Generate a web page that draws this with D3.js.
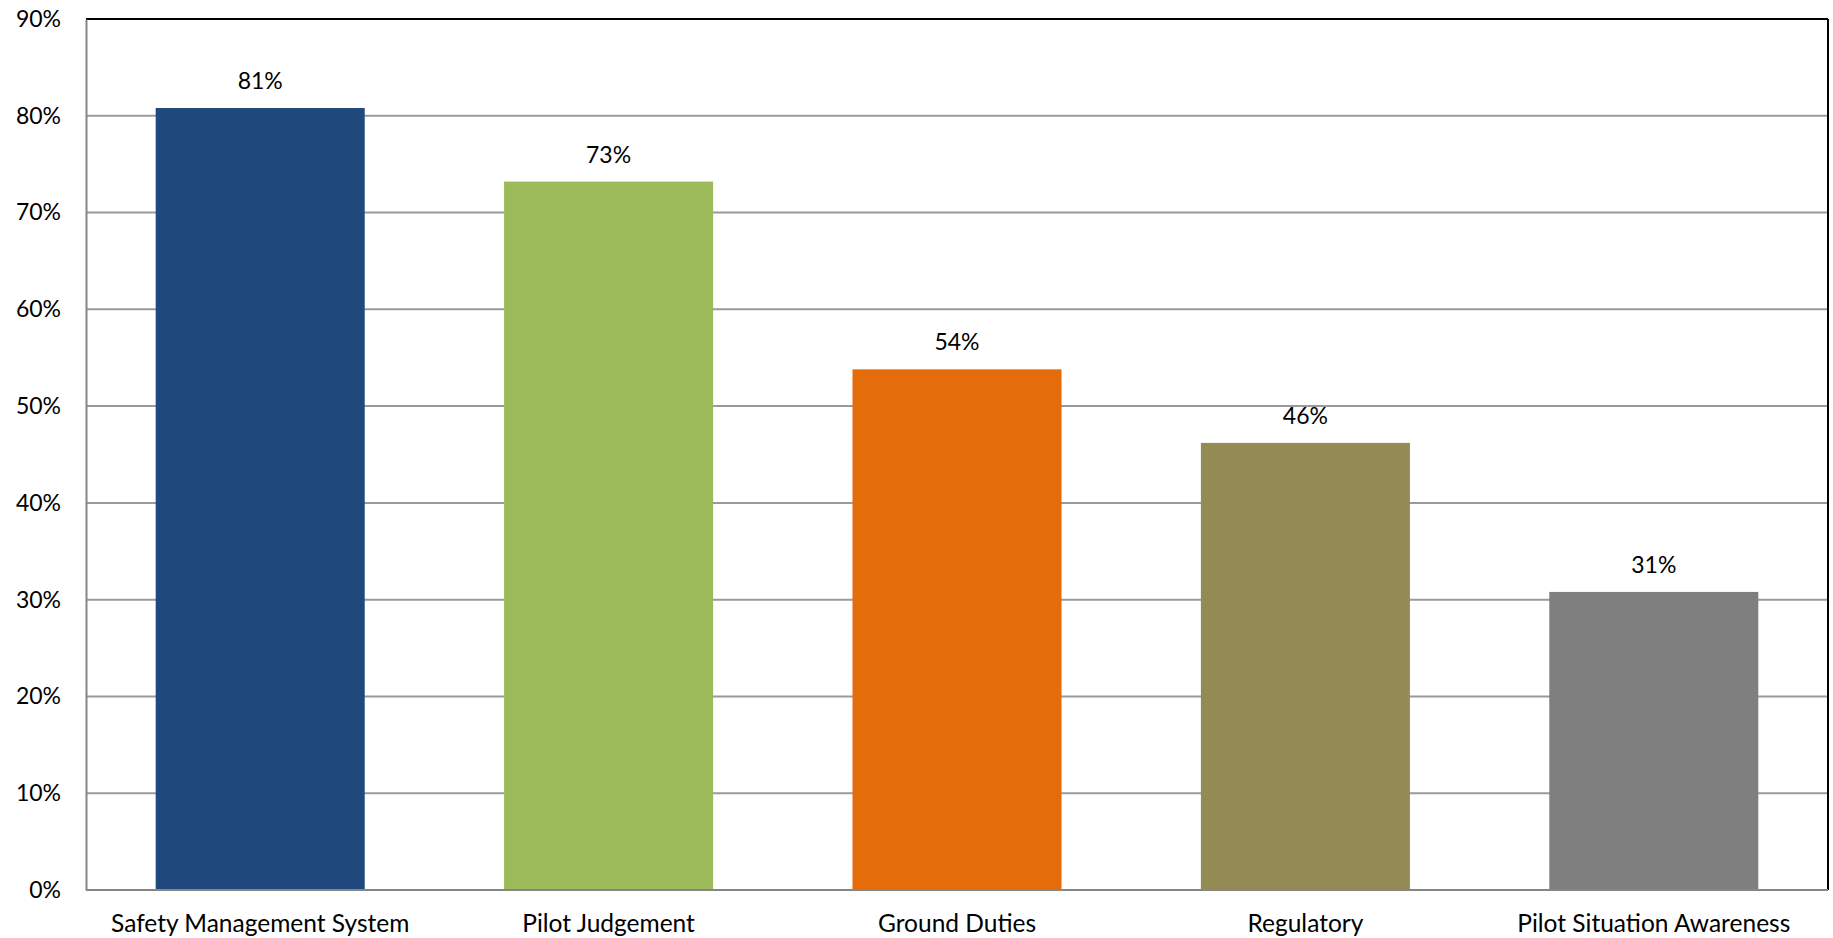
<!DOCTYPE html>
<html>
<head>
<meta charset="utf-8">
<script src="https://cdn.jsdelivr.net/npm/d3@7"></script>
<style>
  html, body { margin: 0; padding: 0; background: #fff; }
  svg { display: block; }
  text { font-family: Lato, "Open Sans", sans-serif; fill: #000; }
</style>
</head>
<body>
<svg id="chart" width="1833" height="938"></svg>
<script>
const categories = ["Safety Management System", "Pilot Judgement", "Ground Duties", "Regulatory", "Pilot Situation Awareness"];
const values = [80.8, 73.2, 53.8, 46.2, 30.8];
const valueLabels = ["81%", "73%", "54%", "46%", "31%"];
const colors = ["#1F497D", "#9BBB59", "#E46C0A", "#948A54", "#7F7F7F"];
const yTicks = [0, 10, 20, 30, 40, 50, 60, 70, 80, 90];

const svg = d3.select("#chart");
const margin = { left: 86, right: 5, top: 19, bottom: 48 };
const W = 1833, H = 938;
const x0 = margin.left, x1 = W - margin.right;
const y0 = H - margin.bottom, y1 = margin.top;

const x = d3.scaleBand().domain(categories).range([x0, x1]).paddingInner(0.4).paddingOuter(0.2);
const y = d3.scaleLinear().domain([0, 90]).range([y0, y1]);

// gridlines
svg.append("g").selectAll("line").data(yTicks.filter(t => t > 0 && t < 90)).join("line")
  .attr("x1", x0).attr("x2", x1)
  .attr("y1", d => y(d)).attr("y2", d => y(d))
  .attr("stroke", "#9A9A9A").attr("stroke-width", 2);

// plot border top and right (black)
svg.append("line").attr("x1", x0).attr("x2", x1).attr("y1", y(90)).attr("y2", y(90))
  .attr("stroke", "#000").attr("stroke-width", 2);
svg.append("line").attr("x1", x1).attr("x2", x1).attr("y1", y(90)).attr("y2", y(0))
  .attr("stroke", "#000").attr("stroke-width", 2);

// bars
svg.append("g").selectAll("rect").data(categories).join("rect")
  .attr("x", d => x(d))
  .attr("width", x.bandwidth())
  .attr("y", (d, i) => y(values[i]))
  .attr("height", (d, i) => y(0) - y(values[i]))
  .attr("fill", (d, i) => colors[i]);

// value labels
svg.append("g").selectAll("text").data(categories).join("text")
  .attr("x", d => x(d) + x.bandwidth() / 2)
  .attr("y", (d, i) => y(values[i]) - 19)
  .attr("text-anchor", "middle")
  .attr("font-size", 23)
  .text((d, i) => valueLabels[i]);

// y axis
const yAxis = d3.axisLeft(y).tickValues(yTicks).tickSize(0).tickPadding(25).tickFormat(d => d + "%");
const gy = svg.append("g").attr("transform", `translate(${x0},0)`).call(yAxis);
gy.select(".domain").attr("stroke", "#868686").attr("stroke-width", 2);
gy.selectAll("text").attr("font-size", 23).attr("font-family", "Lato, sans-serif").attr("fill", "#000");

// x axis
const xAxis = d3.axisBottom(x).tickSize(0).tickPadding(25);
const gx = svg.append("g").attr("transform", `translate(0,${y0})`).call(xAxis);
gx.select(".domain").attr("stroke", "#868686").attr("stroke-width", 2).attr("d", `M${x0},0H${x1}`);
gx.selectAll("text").attr("font-size", 24.5).attr("font-family", "Lato, sans-serif").attr("fill", "#000");
</script>
</body>
</html>
